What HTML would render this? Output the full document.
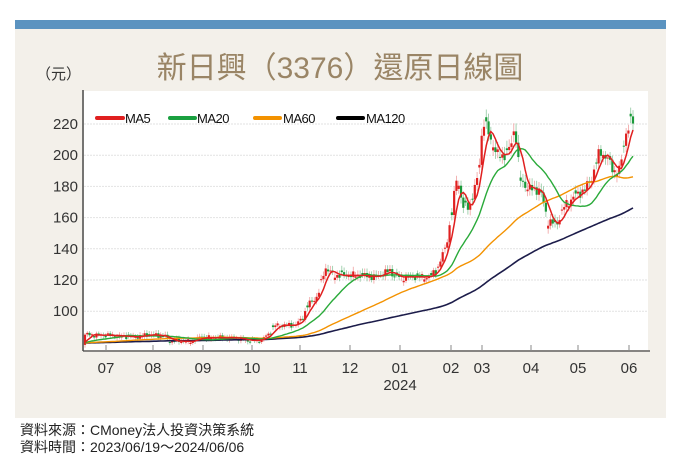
<!DOCTYPE html>
<html><head><meta charset="utf-8">
<style>
body{margin:0;width:686px;height:475px;background:#fff;overflow:hidden;font-family:"Liberation Sans","Noto Sans CJK TC",sans-serif;}
svg{display:block}
</style></head><body>
<svg id="s" width="686" height="475" xmlns="http://www.w3.org/2000/svg">
<rect x="0" y="0" width="686" height="475" fill="#fff"/>
<rect x="15" y="20" width="651" height="9" fill="#5b93c0"/>
<rect x="15" y="29" width="651" height="389" fill="#f3f0ea"/>
<rect x="84" y="91" width="564" height="259" fill="#fff"/>
<text x="340" y="78" text-anchor="middle" font-size="30" fill="#9a8566" font-family="'Liberation Sans','Noto Sans CJK TC',sans-serif">新日興（3376）還原日線圖</text>
<text x="36" y="79" font-size="15" fill="#333" font-family="'Liberation Sans','Noto Sans CJK TC',sans-serif">（元）</text>
<g id="grid"></g>
<g id="cand"></g>
<g id="mas"></g>
<line x1="83" y1="90" x2="83" y2="351" stroke="#222" stroke-width="1.2"/>
<line x1="83" y1="351" x2="650" y2="351" stroke="#444" stroke-width="1.2"/>
<g id="ax" font-size="15" fill="#333"></g>
<g font-size="13" fill="#111" style="letter-spacing:-0.5px">
<line x1="97" y1="118" x2="123" y2="118" stroke="#e02020" stroke-width="4" stroke-linecap="round"/><text x="125" y="123">MA5</text>
<line x1="170" y1="118" x2="195" y2="118" stroke="#1aa040" stroke-width="4" stroke-linecap="round"/><text x="197" y="123">MA20</text>
<line x1="255" y1="118" x2="280" y2="118" stroke="#f39200" stroke-width="4" stroke-linecap="round"/><text x="283" y="123">MA60</text>
<line x1="338" y1="118" x2="363" y2="118" stroke="#000" stroke-width="4" stroke-linecap="round"/><text x="366" y="123">MA120</text>
</g>
<text x="20" y="435" font-size="14" fill="#222" font-family="'Liberation Sans','Noto Sans CJK TC',sans-serif">資料來源：CMoney法人投資決策系統</text>
<text x="20" y="452" font-size="14" fill="#222" font-family="'Liberation Sans','Noto Sans CJK TC',sans-serif">資料時間：2023/06/19～2024/06/06</text>
</svg>
<script>
var NS="http://www.w3.org/2000/svg";
function el(p,t,a,txt){var e=document.createElementNS(NS,t);for(var k in a)e.setAttribute(k,a[k]);if(txt)e.textContent=txt;document.getElementById(p).appendChild(e);return e;}
function Y(v){return 124+(220-v)*1.56;}
[220,200,180,160,140,120,100].forEach(function(v){
 el("grid","line",{x1:84,x2:648,y1:Y(v),y2:Y(v),stroke:"#e2e2e2","stroke-dasharray":"2,1"});
 el("ax","text",{x:78,y:Y(v)+5,"text-anchor":"end"},""+v);
});
var mx=[[106,"07"],[153,"08"],[203,"09"],[252,"10"],[300,"11"],[350,"12"],[400,"01"],[451,"02"],[482,"03"],[531,"04"],[578,"05"],[629,"06"]];
mx.forEach(function(m){el("ax","line",{x1:m[0],x2:m[0],y1:345,y2:351,stroke:"#888"});el("ax","text",{x:m[0],y:373,"text-anchor":"middle"},m[1]);});
el("ax","text",{x:400,y:390,"text-anchor":"middle"},"2024");
var kp=[[84,85],[110,84.5],[135,83.5],[150,85],[165,84],[170,81],[190,80.5],[200,83],[215,83],[235,83],[250,81],[262,82],[270,86],[275,91],[295,91],[302,95],[308,104],[318,110],[325,128],[335,123],[360,123],[375,122],[390,126],[395,122],[430,122],[438,128],[446,142],[452,163],[457,188],[463,166],[470,168],[478,186],[483,222],[490,212],[497,200],[505,200],[510,204],[515,219],[520,184],[530,178],[540,178],[548,158],[556,155],[565,168],[575,174],[585,178],[592,186],[600,203],[608,197],[614,190],[620,190],[625,213],[632,222]];
function P(x){for(var i=1;i<kp.length;i++){if(x<=kp[i][0]){var a=kp[i-1],b=kp[i];return a[1]+(b[1]-a[1])*(x-a[0])/(b[0]-a[0]);}}return kp[kp.length-1][1];}
var N=240,x0=85,x1=633,dx=(x1-x0)/(N-1);
var closes=[],xs=[];
for(var i=0;i<120;i++)closes.push(79.5+1.2*Math.sin(i*0.3));
for(var i=0;i<N;i++){var x=x0+i*dx;xs.push(x);var p=P(x);var n=Math.sin(i*2.7)*0.7+Math.sin(i*1.3)*0.6;closes.push(p*(1+0.016*n));}
for(var i=0;i<N;i++){var c=closes[120+i],o=closes[119+i];if(i%3==1)o=c*(1+0.012*Math.sin(i*5));
 var hi=Math.max(o,c)*(1+0.012+0.012*Math.abs(Math.sin(i*3.1))),lo=Math.min(o,c)*(1-0.012-0.01*Math.abs(Math.cos(i*2.3)));
 var col=c>=o?"#e02020":"#1a9a3a",wc=c>=o?"#f0a0a0":"#90c8a0";
 el("cand","line",{x1:xs[i],x2:xs[i],y1:Y(hi),y2:Y(lo),stroke:wc,"stroke-width":0.8});
 var t=Y(Math.max(o,c)),b=Y(Math.min(o,c));el("cand","rect",{x:xs[i]-1.1,y:t,width:2.2,height:Math.max(1,b-t),fill:col});}
function ma(n,col,w){var pts=[];for(var i=0;i<N;i++){var s=0;for(var k=0;k<n;k++)s+=closes[120+i-k];pts.push(xs[i].toFixed(1)+","+Y(s/n).toFixed(1));}
 el("mas","polyline",{points:pts.join(" "),fill:"none",stroke:col,"stroke-width":w});}
ma(120,"#1c1c4a",1.6);ma(60,"#f39200",1.4);ma(20,"#2aaa3a",1.4);ma(5,"#e02020",1.5);
</script>
</body></html>
